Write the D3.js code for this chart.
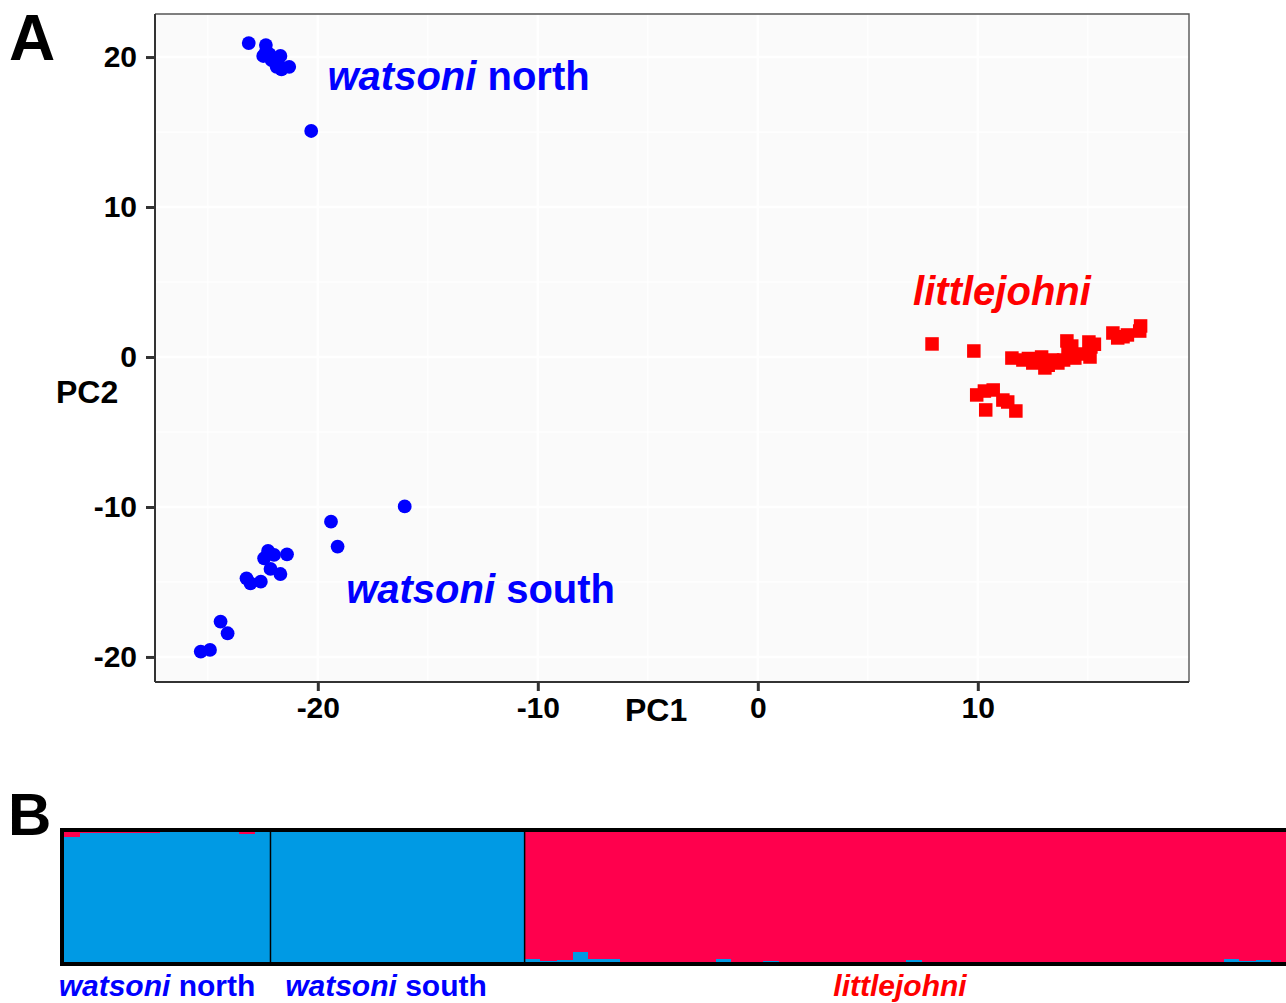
<!DOCTYPE html>
<html>
<head>
<meta charset="utf-8">
<script src="https://cdn.jsdelivr.net/npm/d3@7"></script>
<style>
  html, body { margin: 0; padding: 0; background: #fff; }
  svg { display: block; font-family: "Liberation Sans", Arial, sans-serif; font-weight: bold; }
</style>
</head>
<body>
<svg id="fig" width="1286" height="1003"></svg>
<script>
(function () {
  'use strict';

  // PCA scores, PC1 / PC2
  var northPC1 = [-23.14, -22.36, -22.36, -22.48, -22.1, -21.95, -21.7, -21.87, -21.65, -21.3, -21.8, -22.2, -20.3];
  var northPC2 = [20.93, 20.8, 20.35, 20.07, 19.8, 19.7, 20.07, 19.35, 19.18, 19.35, 19.6, 20.2, 15.07];

  var southPC1 = [-16.05, -19.4, -19.1, -22.26, -21.99, -21.4, -22.44, -22.15, -21.7, -23.24, -23.06, -22.59, -24.42, -24.1, -25.32, -24.9];
  var southPC2 = [-9.96, -10.98, -12.64, -12.93, -13.2, -13.16, -13.42, -14.13, -14.47, -14.76, -15.09, -14.98, -17.64, -18.42, -19.64, -19.53];

  var littlePC1 = [7.92, 9.82, 9.95, 10.36, 10.3, 10.7, 11.14, 11.36, 11.73,
    11.55, 12.05, 12.5, 13.05, 12.82, 13.4, 13.64, 12.3, 13.2, 12.9,
    14.05, 14.27, 14.41, 14.1, 13.9, 15.05, 15.14, 15.1, 15.3, 14.8,
    16.14, 16.36, 16.8, 17.4, 17.36, 16.6];
  var littlePC2 = [0.87, 0.4, -2.53, -3.53, -2.27, -2.2, -2.87, -3.0, -3.6,
    -0.07, -0.2, -0.4, -0.73, -0.27, -0.2, -0.4, -0.1, -0.55, 0.0,
    1.07, 0.73, -0.07, 0.35, -0.2, 1.0, 0.67, 0.0, 0.85, 0.2,
    1.6, 1.27, 1.47, 2.07, 1.73, 1.35];

  var xTicks = [-20, -10, 0, 10];
  var yTicks = [-20, -10, 0, 10, 20];
  var xMinor = [-25, -15, -5, 5, 15];
  var yMinor = [-15, -5, 5, 15];

  // Cluster labels on the PCA plot (centre x, baseline y, in PC units)
  var pcaLabels = [
    { it: 'watsoni', rest: ' north', x: -13.6, y: 17.8, color: '#0000ff' },
    { it: 'watsoni', rest: ' south', x: -12.6, y: -16.4, color: '#0000ff' },
    { it: 'littlejohni', rest: '', x: 11.1, y: 3.47, color: '#ff0000' }
  ];

  // STRUCTURE (K=2): share of the littlejohni cluster per individual
  var northRed = [0.035, 0.008, 0.008, 0.004, 0.008, 0.008, 0.002, 0.002, 0.002, 0.002, 0.002, 0.016, 0.002];
  var southRed = [0.001, 0.001, 0.001, 0.001, 0.001, 0.001, 0.001, 0.001, 0.001, 0.001, 0.001, 0.001, 0.001, 0.001, 0.001, 0.001];
  var littleBlue = [0.023, 0.004, 0.015, 0.075, 0.022, 0.024, 0.002, 0.002, 0.002, 0.002, 0.002, 0.002,
    0.02, 0.002, 0.002, 0.008, 0.002, 0.002, 0.002, 0.002, 0.002, 0.002, 0.002, 0.002,
    0.016, 0.002, 0.002, 0.002, 0.002, 0.002, 0.002, 0.002, 0.002, 0.002, 0.002, 0.002,
    0.002, 0.002, 0.002, 0.002, 0.002, 0.002, 0.002, 0.002, 0.025, 0.008, 0.012, 0.002];
  var groupNames = ['watsoni north', 'watsoni south', 'littlejohni'];

  var BLUE_Q = '#009ae4';
  var RED_Q = '#ff004d';

  var svg = d3.select('#fig');

  // ---------- Panel A ----------
  var left = 155, right = 1189, top = 14, bottom = 682;
  var x = d3.scaleLinear().domain([-27.4, 19.6]).range([left, right]);
  var y = d3.scaleLinear().domain([-21.67, 22.87]).range([bottom, top]);

  svg.append('rect')
    .attr('x', left).attr('y', top)
    .attr('width', right - left).attr('height', bottom - top)
    .attr('fill', '#fafafa');

  var grid = svg.append('g');
  grid.selectAll('.vminor').data(xMinor).enter().append('line')
    .attr('x1', function (d) { return x(d); }).attr('x2', function (d) { return x(d); })
    .attr('y1', top).attr('y2', bottom)
    .attr('stroke', '#fff').attr('stroke-width', 1.2);
  grid.selectAll('.hminor').data(yMinor).enter().append('line')
    .attr('y1', function (d) { return y(d); }).attr('y2', function (d) { return y(d); })
    .attr('x1', left).attr('x2', right)
    .attr('stroke', '#fff').attr('stroke-width', 1.2);
  grid.selectAll('.vmajor').data(xTicks).enter().append('line')
    .attr('x1', function (d) { return x(d); }).attr('x2', function (d) { return x(d); })
    .attr('y1', top).attr('y2', bottom)
    .attr('stroke', '#fff').attr('stroke-width', 2.4);
  grid.selectAll('.hmajor').data(yTicks).enter().append('line')
    .attr('y1', function (d) { return y(d); }).attr('y2', function (d) { return y(d); })
    .attr('x1', left).attr('x2', right)
    .attr('stroke', '#fff').attr('stroke-width', 2.4);

  // panel border (top/right lighter)
  svg.append('path')
    .attr('d', 'M' + left + ',' + top + 'H' + right + 'V' + bottom)
    .attr('fill', 'none').attr('stroke', '#555').attr('stroke-width', 1.4);

  // points
  var pts = svg.append('g');
  pts.selectAll('.north').data(northPC1).enter().append('circle')
    .attr('cx', function (d) { return x(d); })
    .attr('cy', function (d, i) { return y(northPC2[i]); })
    .attr('r', 6.9).attr('fill', '#0000ff');
  pts.selectAll('.south').data(southPC1).enter().append('circle')
    .attr('cx', function (d) { return x(d); })
    .attr('cy', function (d, i) { return y(southPC2[i]); })
    .attr('r', 6.9).attr('fill', '#0000ff');
  var sq = 13.5;
  pts.selectAll('.little').data(littlePC1).enter().append('rect')
    .attr('x', function (d) { return x(d) - sq / 2; })
    .attr('y', function (d, i) { return y(littlePC2[i]) - sq / 2; })
    .attr('width', sq).attr('height', sq).attr('fill', '#ff0000');

  // axes
  var fmt = function (d) { return String(d); };
  var xAxis = svg.append('g').attr('transform', 'translate(0,' + bottom + ')')
    .call(d3.axisBottom(x).tickValues(xTicks).tickSize(9).tickPadding(6).tickFormat(fmt));
  var yAxis = svg.append('g').attr('transform', 'translate(' + left + ',0)')
    .call(d3.axisLeft(y).tickValues(yTicks).tickSize(9).tickPadding(9).tickFormat(fmt));
  [xAxis, yAxis].forEach(function (ax) {
    ax.select('.domain').attr('stroke', '#333').attr('stroke-width', 2);
    ax.selectAll('.tick line').attr('stroke', '#333').attr('stroke-width', 3);
    ax.selectAll('.tick text')
      .attr('fill', '#000').style('font-size', '30px').style('font-family', '"Liberation Sans", Arial, sans-serif')
      .style('font-weight', 'bold');
  });
  xAxis.select('.domain').attr('d', 'M' + left + ',0H' + right);
  yAxis.select('.domain').attr('d', 'M0,' + top + 'V' + bottom);

  svg.append('text').attr('x', 625).attr('y', 721)
    .style('font-size', '32px').attr('fill', '#000').text('PC1');
  svg.append('text').attr('x', 56).attr('y', 403)
    .style('font-size', '32px').attr('fill', '#000').text('PC2');

  pcaLabels.forEach(function (l) {
    var t = svg.append('text')
      .attr('x', x(l.x)).attr('y', y(l.y))
      .attr('text-anchor', 'middle')
      .style('font-size', '40px').attr('fill', l.color);
    t.append('tspan').style('font-style', 'italic').text(l.it);
    if (l.rest) t.append('tspan').text(l.rest);
  });

  svg.append('text').attr('x', 9).attr('y', 60)
    .style('font-size', '64px').attr('fill', '#000').text('A');

  // ---------- Panel B ----------
  var bTop = 832, bBottom = 962, bLeft = 64, bRight = 1287;
  var groups = [
    { name: groupNames[0], red: northRed },
    { name: groupNames[1], red: southRed },
    { name: groupNames[2], red: littleBlue.map(function (b) { return 1 - b; }) }
  ];
  var inds = [];
  groups.forEach(function (g, gi) {
    g.red.forEach(function (r, i) { inds.push({ id: gi + '_' + i, group: gi, red: r }); });
  });

  var bx = d3.scaleBand().domain(inds.map(function (d) { return d.id; })).range([bLeft, bRight]);
  var by = d3.scaleLinear().domain([0, 1]).range([bBottom, bTop]);

  var bars = svg.append('g').attr('shape-rendering', 'crispEdges');
  bars.selectAll('.blue').data(inds).enter().append('rect')
    .attr('x', function (d) { return bx(d.id); })
    .attr('width', bx.bandwidth() + 0.6)
    .attr('y', function (d) { return by(1 - d.red); })
    .attr('height', function (d) { return by(0) - by(1 - d.red); })
    .attr('fill', BLUE_Q);
  bars.selectAll('.red').data(inds).enter().append('rect')
    .attr('x', function (d) { return bx(d.id); })
    .attr('width', bx.bandwidth() + 0.6)
    .attr('y', by(1))
    .attr('height', function (d) { return by(1 - d.red) - by(1); })
    .attr('fill', RED_Q);

  // group dividers
  var bounds = [];
  inds.forEach(function (d, i) {
    if (i > 0 && inds[i - 1].group !== d.group) bounds.push(bx(d.id));
  });
  svg.selectAll('.divider').data(bounds).enter().append('line')
    .attr('x1', function (d) { return d; }).attr('x2', function (d) { return d; })
    .attr('y1', bTop).attr('y2', bBottom)
    .attr('stroke', '#000').attr('stroke-width', 1.5);

  svg.append('rect')
    .attr('x', bLeft - 2).attr('y', bTop - 2)
    .attr('width', bRight - bLeft + 10).attr('height', bBottom - bTop + 4)
    .attr('fill', 'none').attr('stroke', '#000').attr('stroke-width', 4);

  var bLabels = [
    { it: 'watsoni', rest: ' north', cx: 157, color: '#0000ff' },
    { it: 'watsoni', rest: ' south', cx: 386, color: '#0000ff' },
    { it: 'littlejohni', rest: '', cx: 900, color: '#ff0000' }
  ];
  bLabels.forEach(function (l) {
    var t = svg.append('text').attr('x', l.cx).attr('y', 996)
      .attr('text-anchor', 'middle').style('font-size', '30px').attr('fill', l.color);
    t.append('tspan').style('font-style', 'italic').text(l.it);
    if (l.rest) t.append('tspan').text(l.rest);
  });

  svg.append('text').attr('x', 8).attr('y', 835)
    .style('font-size', '60px').attr('fill', '#000').text('B');
})();
</script>
</body>
</html>
